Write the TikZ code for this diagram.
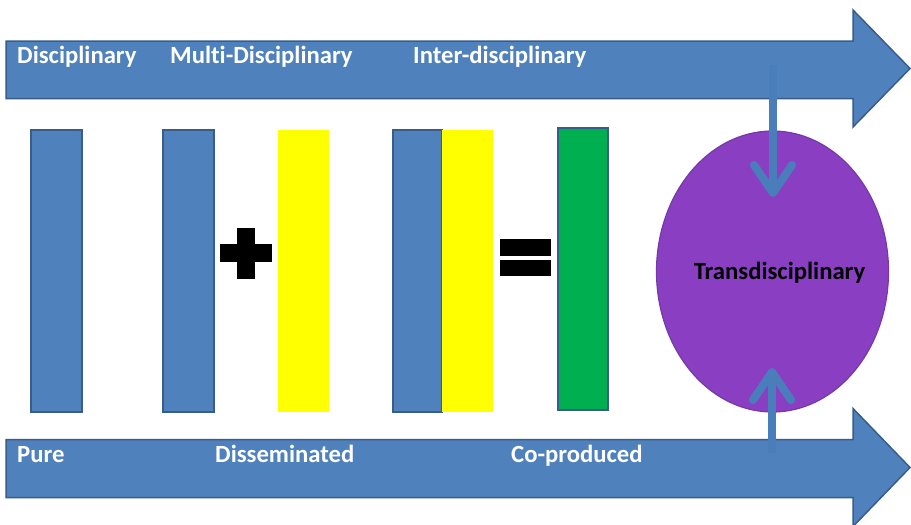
\documentclass[tikz,border=0pt]{standalone}
\usepackage{fontspec}
\setmainfont{Carlito}[Ligatures=NoCommon]
\usetikzlibrary{arrows.meta,shapes.geometric}
\definecolor{accent}{HTML}{4F81BD}
\definecolor{accentline}{HTML}{385D8A}
\definecolor{linkblue}{HTML}{4A7EBB}
\definecolor{purplefill}{HTML}{8A3FC3}
\definecolor{purpleline}{HTML}{7538A8}
\definecolor{sunyellow}{HTML}{FFFF00}
\definecolor{leafgreen}{HTML}{00B050}
\tikzset{
  bigarrow/.style={fill=accent, draw=accentline, line width=1.5pt, line join=miter},
  bluebar/.style={fill=accent, draw=accentline, line width=1.5pt},
  yellowbar/.style={fill=sunyellow},
  greenbar/.style={fill=leafgreen, draw=accentline, line width=1.5pt},
  sign/.style={fill=black},
  labelfont/.style={font=\fontsize{24.7}{29}\selectfont\bfseries},
  toplabel/.style={labelfont, anchor=base west, inner sep=0pt, text=white},
  link/.style={draw=linkblue, line width=8pt,
    -{Straight Barb[length=28pt, width=38pt, line cap=round, line join=round]}},
}
\begin{document}
\begin{tikzpicture}[x=1pt, y=-1pt]
  \useasboundingbox (0,0) rectangle (911,525);
  \clip (0,0) rectangle (911,525);
  \fill[white] (0,0) rectangle (911,525);

  % upper and lower block arrows
  \draw[bigarrow] (6,41) -- (853,41) -- (853,10) -- (910,68.5) -- (853,127) -- (853,98.5) -- (6,98.5) -- cycle;
  \draw[bigarrow] (6,439.5) -- (853,439.5) -- (853,408.5) -- (910,467.5) -- (853,526.5) -- (853,497.5) -- (6,497.5) -- cycle;

  \node[toplabel] (disc)  at (17,63)  {Disciplinary};
  \node[toplabel] (multi) at (170,63) {Multi-Disciplinary};
  \node[toplabel] (inter) at (413,63) {Inter-disciplinary};
  \node[toplabel] (pure)  at (17,462) {Pure};
  \node[toplabel] (diss)  at (215,462) {Disseminated};
  \node[toplabel] (copro) at (511,462) {Co-produced};

  % discipline bars
  \draw[bluebar] (31,130) rectangle (82,412);
  \draw[bluebar] (163,130) rectangle (214,412);
  \fill[yellowbar] (278,130) rectangle (329,412);
  \draw[bluebar] (393,130) rectangle (442,412);
  \fill[yellowbar] (442,130) rectangle (493,412);
  \draw[greenbar] (558,128) rectangle (608,410);

  % plus and equals signs
  \fill[sign] (237,228) rectangle (255,279);
  \fill[sign] (220,244) rectangle (272,262);
  \fill[sign] (500,239) rectangle (551,256);
  \fill[sign] (500,260) rectangle (551,276);

  % transdisciplinary ellipse
  \node[ellipse, fill=purplefill, draw=purpleline, line width=1.2pt,
        minimum width=232pt, minimum height=281pt, inner sep=0pt] (trans) at (772.5,271.5) {};
  \node[labelfont, inner sep=0pt, text=black] (translabel) at (779.5,273) {Transdisciplinary};

  % links into the ellipse
  \coordinate (downstart) at (773,65);
  \coordinate (downend) at (773,197);
  \coordinate (upstart) at (772,453);
  \coordinate (upend) at (772,368);
  \draw[link] (downstart) -- (downend);
  \draw[link] (upstart) -- (upend);
\end{tikzpicture}
\end{document}
